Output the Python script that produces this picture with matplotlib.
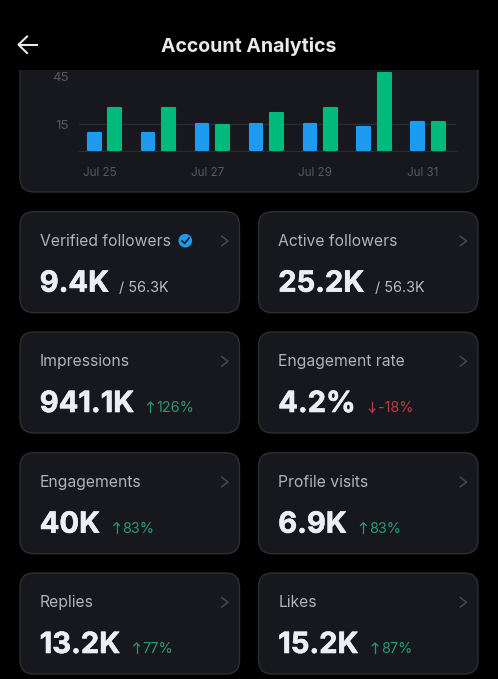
from matplotlib import pyplot as plt
from matplotlib import patheffects
from matplotlib.patches import FancyBboxPatch, Rectangle, Circle
import numpy as np

# chart data
days = ['Jul 25', 'Jul 26', 'Jul 27', 'Jul 28', 'Jul 29', 'Jul 30', 'Jul 31']
blue_vals = [10, 10, 16, 16, 16, 14, 17]
green_vals = [26, 26, 15, 23, 26, 47.5, 17]
y_ticks = [15, 45]

# cards, row by row
card_labels = ['Verified followers', 'Active followers', 'Impressions', 'Engagement rate',
               'Engagements', 'Profile visits', 'Replies', 'Likes']
card_values = ['9.4K', '25.2K', '941.1K', '4.2%', '40K', '6.9K', '13.2K', '15.2K']
card_totals = ['/ 56.3K', '/ 56.3K', None, None, None, None, None, None]
card_deltas = [None, None, 126, -18, 83, 83, 77, 87]
delta_texts = [None, None, '126%', '-18%', '83%', '83%', '77%', '87%']

BG = '#000000'
CARD = '#16181d'
EDGE = '#2c2e32'
LABEL = '#b0b3b7'
VALUE = '#eceef1'
UP = '#279b6e'
DOWN = '#b93a4b'
W, H = 498, 679

plt.rcParams['font.family'] = ['Inter', 'DejaVu Sans']

fig = plt.figure(figsize=(W / 100, H / 100), dpi=100, facecolor=BG)

# whole figure axes in pixel coordinates, used for the phone screen layout
bg = fig.add_axes([0, 0, 1, 1])
bg.set_xlim(0, W)
bg.set_ylim(H, 0)
bg.axis('off')


def card(x0, y0, x1, y1):
    r = 14
    bg.add_patch(FancyBboxPatch((x0 + r, y0 + r), x1 - x0 - 2 * r, y1 - y0 - 2 * r,
                                boxstyle=f'round,pad={r},rounding_size={r}',
                                fc=CARD, ec=EDGE, lw=1.0))


# chart card goes under the header
card(20, 30, 478, 192)
bg.add_patch(Rectangle((0, 0), W, 70, fc=BG, ec='none', zorder=5))

# header
bg.text(249, 51.7, 'Account Analytics', color='#e7e9ea', fontsize=14.0, fontweight='bold',
        ha='center', va='baseline', zorder=6)
bg.plot([18.5, 36.5], [44.7, 44.7], color='#e7e9ea', lw=1.5, zorder=6)
bg.plot([27, 18.5, 27], [36.5, 44.7, 53], color='#e7e9ea', lw=1.5, zorder=6)

# bar chart
ax_left, ax_right, ax_top, ax_bottom = 79, 456, 70, 151.3
ax = fig.add_axes([ax_left / W, 1 - ax_bottom / H, (ax_right - ax_left) / W, (ax_bottom - ax_top) / H])
ax.patch.set_alpha(0)
base = -1.9
ax.set_ylim(base, 48.75)
ax.set_xlim(-0.473, 6.52)
x = np.arange(len(days))
blue = np.array(blue_vals)
green = np.array(green_vals)
inset = 0.75
for xs, vals, col in [(x - 0.191, blue, '#1d9bf0'), (x + 0.191, green, '#00ba7c')]:
    ax.bar(xs, vals - base - 2 * inset, bottom=base + inset, width=0.235, color=col, edgecolor=col,
           linewidth=1.5, joinstyle='round', zorder=3)
ax.axhline(15, color='#2a2c31', lw=1, zorder=1)
for s in ['top', 'left', 'right']:
    ax.spines[s].set_visible(False)
ax.spines['bottom'].set_color('#2a2c31')
ax.set_yticks(y_ticks)
ax.set_xticks(x[::2] - 0.09)
ax.set_xticklabels(days[::2])
ax.tick_params(length=0, colors='#56595e', labelsize=8.4)
ax.tick_params(axis='x', pad=11.5)
ax.tick_params(axis='y', pad=7, labelsize=9.6)

# metric cards
col_x = [(20, 239.5), (258.5, 478)]
row_y = [211.7, 332, 452.7, 573]
card_h = 101
fig.canvas.draw()
renderer = fig.canvas.get_renderer()
thicker = [patheffects.withStroke(linewidth=0.45, foreground=VALUE)]

for i, label in enumerate(card_labels):
    x0, x1 = col_x[i % 2]
    y0 = row_y[i // 2]
    card(x0, y0, x1, y0 + card_h)
    tx = x0 + 19.7
    bg.text(tx, y0 + 34.3, label, color=LABEL, fontsize=11.3, va='baseline')
    val = bg.text(tx, y0 + 80, card_values[i], color=VALUE, fontsize=21, fontweight='bold', va='baseline',
                  path_effects=thicker)
    end_x = bg.transData.inverted().transform(val.get_window_extent(renderer).corners()[-1])[0]
    # chevron
    bg.plot([x1 - 17.7, x1 - 11.5, x1 - 17.7], [y0 + 24.6, y0 + 29.3, y0 + 34], color='#45484c', lw=1.1)
    if card_totals[i]:
        bg.text(end_x + 10.5, y0 + 80, card_totals[i], color='#b9bcc0', fontsize=10.4, va='baseline')
    if card_deltas[i] is not None:
        col = UP if card_deltas[i] > 0 else DOWN
        # small arrow made of lines, then the percentage
        ax0 = end_x + 16.5
        top, bot = y0 + 70, y0 + 80
        if card_deltas[i] < 0:
            top, bot = bot, top
        bg.plot([ax0, ax0], [top, bot], color=col, lw=0.9)
        step = 2.8 if card_deltas[i] > 0 else -2.8
        bg.plot([ax0 - 2.8, ax0, ax0 + 2.8], [top + step, top, top + step], color=col, lw=0.9)
        bg.text(ax0 + 6, y0 + 80, delta_texts[i], color=col, fontsize=10.4, va='baseline')

# verified badge
bg.add_patch(Circle((185.3, 240.7), 6.8, fc='#1d9bf0', ec='none'))
bg.plot([182, 184.6, 189], [240.9, 243.4, 238], color='#10161c', lw=1.2)

fig.savefig('out.png', dpi=100, facecolor=BG)
